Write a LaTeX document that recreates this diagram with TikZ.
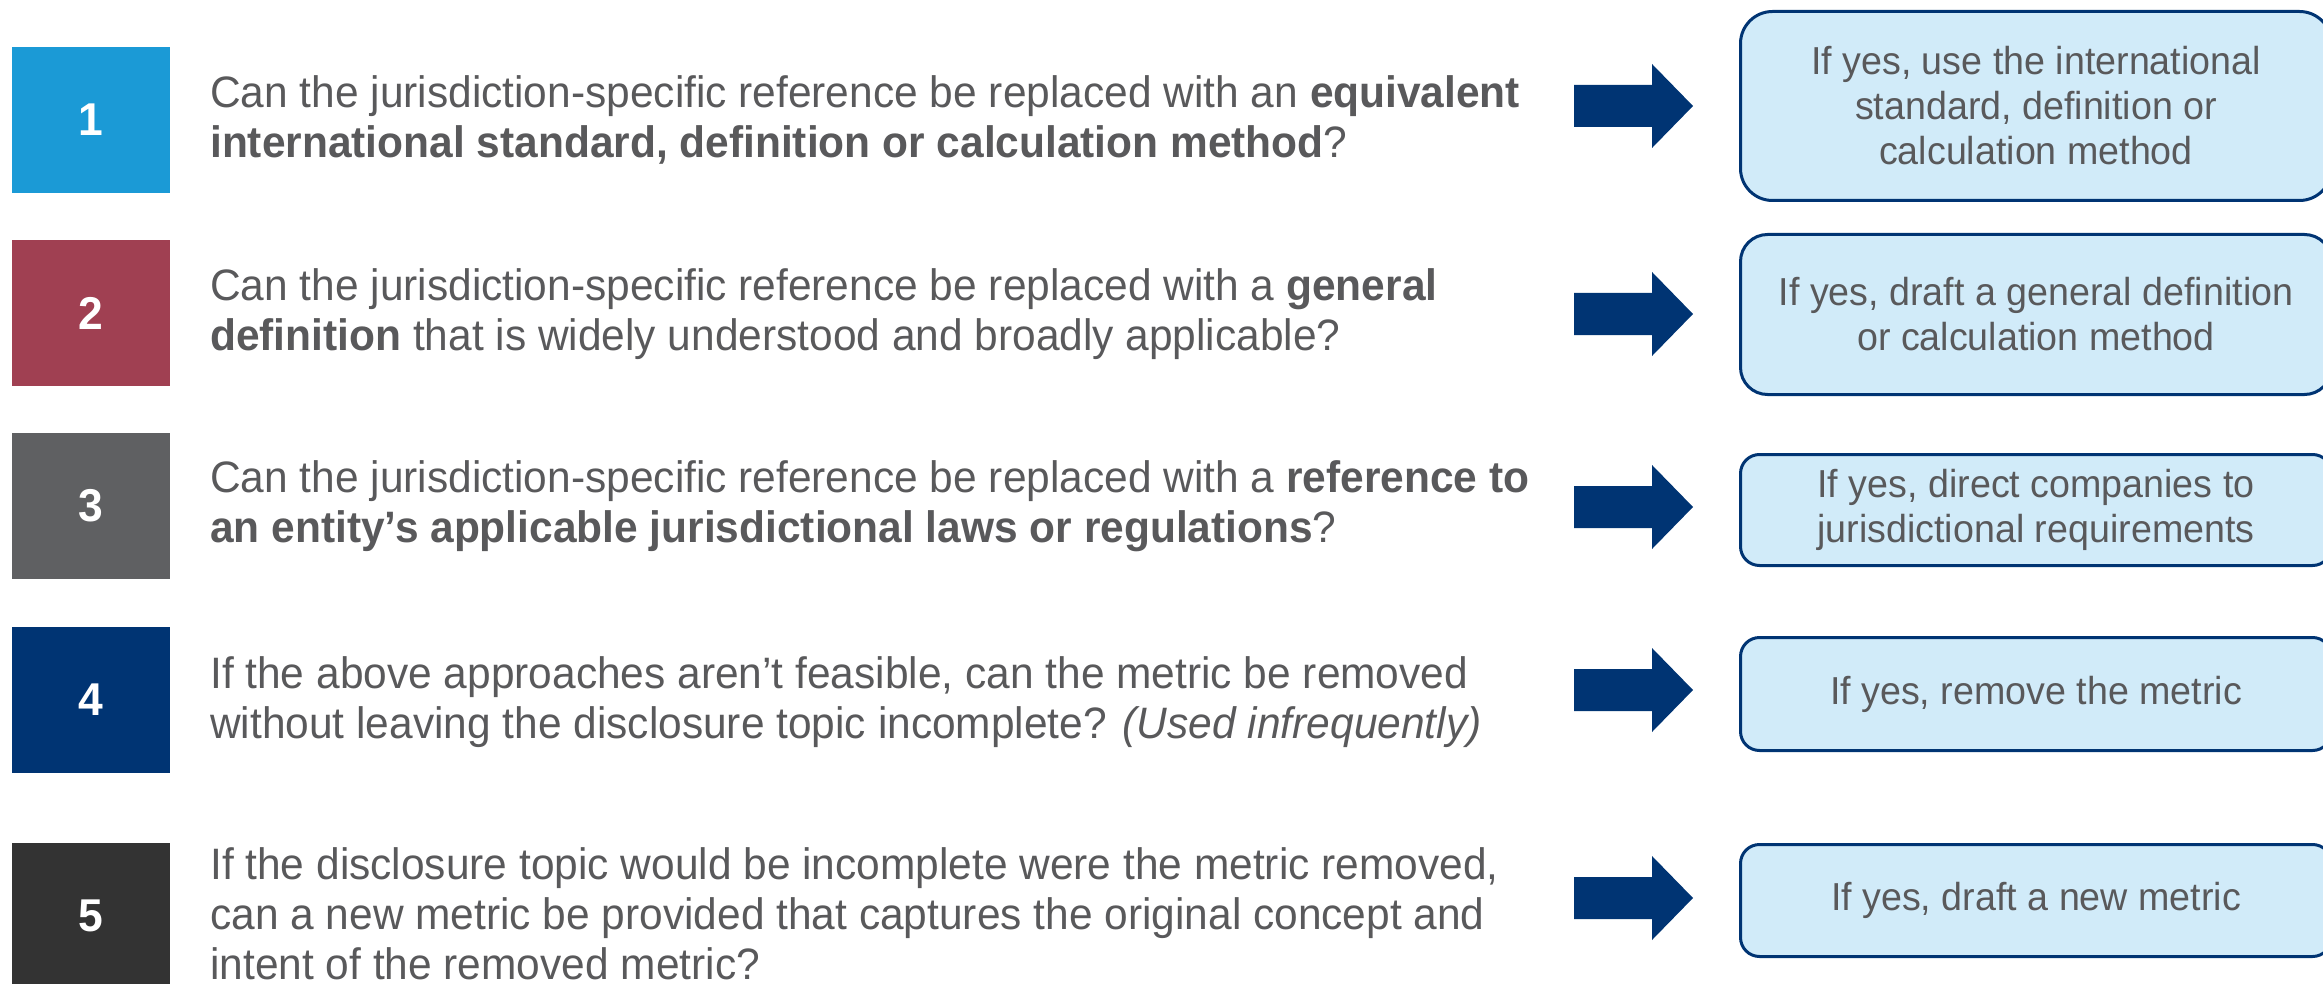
\documentclass[tikz,border=0pt]{standalone}
\usepackage{fontspec}
\setmainfont{Liberation Sans}[FakeStretch=0.965]
\definecolor{numblue}{RGB}{27,154,214}
\definecolor{numred}{RGB}{160,64,82}
\definecolor{numgray}{RGB}{95,96,98}
\definecolor{navy}{RGB}{0,52,115}
\definecolor{numdark}{RGB}{51,51,51}
\definecolor{boxfill}{RGB}{209,235,249}
\definecolor{txtgray}{RGB}{89,89,91}
\tikzset{
  num/.style={minimum width=158pt, minimum height=146pt, inner sep=0pt, text=white, font=\fontsize{46}{50}\selectfont\bfseries},
  question/.style={anchor=west, inner sep=0pt, align=left, text=txtgray, font=\fontsize{44}{50}\selectfont},
  answer/.style={draw=navy, line width=3pt, fill=boxfill, text=txtgray, align=center, minimum width=591pt, inner sep=0pt, font=\fontsize{39}{45}\selectfont},
  blockarrow/.style={fill=navy}
}
\begin{document}
\begin{tikzpicture}[x=1pt,y=-1pt]
        \useasboundingbox (0,0) rectangle (2323,984);
        \node[num,fill=numblue] (q1) at (91,120) {1};
        \node[num,fill=numred]  (q2) at (91,313) {2};
        \node[num,fill=numgray] (q3) at (91,505.5) {3};
        \node[num,fill=navy]    (q4) at (91,700) {4};
        \node[num,fill=numdark] (q5) at (91,916) {5};
        \node[question] (t1) at (210,120) {Can the jurisdiction-specific reference be replaced with an \textbf{equivalent}\\\textbf{international standard, definition or calculation method}?};
        \node[question] (t2) at (210,314) {Can the jurisdiction-specific reference be replaced with a \textbf{general}\\\textbf{definition} that is widely understood and broadly applicable?};
        \node[question] (t3) at (210,506) {Can the jurisdiction-specific reference be replaced with a \textbf{reference to}\\\textbf{an entity’s applicable jurisdictional laws or regulations}?};
        \node[question] (t4) at (210,702) {If the above approaches aren’t feasible, can the metric be removed\\without leaving the disclosure topic incomplete? \textit{(Used infrequently)}};
        \node[question] (t5) at (210,914) {If the disclosure topic would be incomplete were the metric removed,\\can a new metric be provided that captures the original concept and\\intent of the removed metric?};
        \fill[blockarrow] (1574,106) ++(0,-21) -- ++(78,0) -- ++(0,-21) -- ++(41,42) -- ++(-41,42) -- ++(0,-21) -- ++(-78,0) -- cycle;
        \fill[blockarrow] (1574,314) ++(0,-21) -- ++(78,0) -- ++(0,-21) -- ++(41,42) -- ++(-41,42) -- ++(0,-21) -- ++(-78,0) -- cycle;
        \fill[blockarrow] (1574,507) ++(0,-21) -- ++(78,0) -- ++(0,-21) -- ++(41,42) -- ++(-41,42) -- ++(0,-21) -- ++(-78,0) -- cycle;
        \fill[blockarrow] (1574,690) ++(0,-21) -- ++(78,0) -- ++(0,-21) -- ++(41,42) -- ++(-41,42) -- ++(0,-21) -- ++(-78,0) -- cycle;
        \fill[blockarrow] (1574,898) ++(0,-21) -- ++(78,0) -- ++(0,-21) -- ++(41,42) -- ++(-41,42) -- ++(0,-21) -- ++(-78,0) -- cycle;
        \node[answer,rounded corners=32pt,minimum height=189pt] (r1) at (2036,106) {If yes, use the international\\standard, definition or\\calculation method};
        \node[answer,rounded corners=27pt,minimum height=160pt] (r2) at (2036,314.5) {If yes, draft a general definition\\or calculation method};
        \node[answer,rounded corners=19pt,minimum height=111pt] (r3) at (2036,510) {If yes, direct companies to\\jurisdictional requirements};
        \node[answer,rounded corners=19pt,minimum height=113pt] (r4) at (2036,694) {If yes, remove the metric};
        \node[answer,rounded corners=19pt,minimum height=112pt] (r5) at (2036,900.5) {If yes, draft a new metric};
    \end{tikzpicture}
\end{document}
